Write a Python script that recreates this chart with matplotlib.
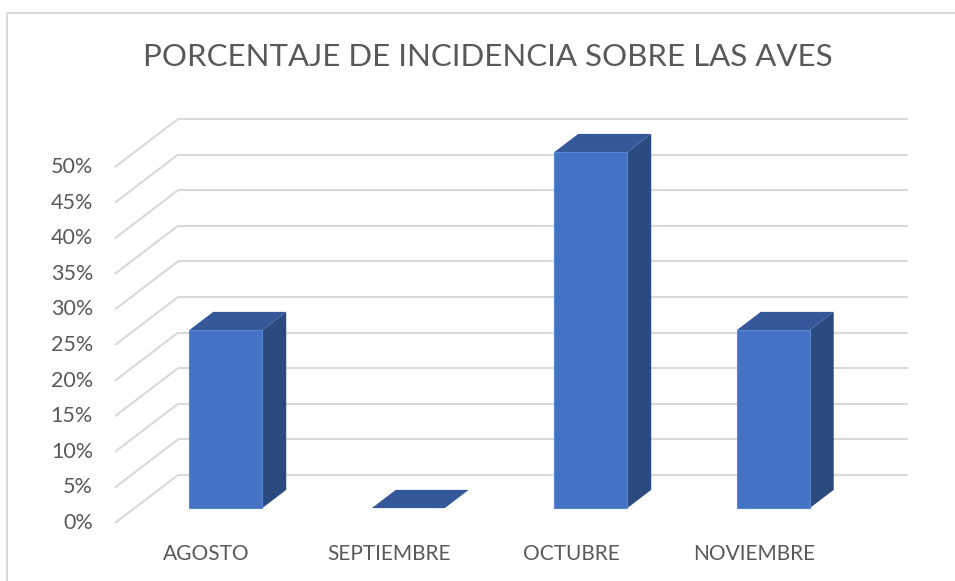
import matplotlib
matplotlib.use("Agg")
import matplotlib.pyplot as plt

# Data
meses = ["AGOSTO", "SEPTIEMBRE", "OCTUBRE", "NOVIEMBRE"]
porcentaje = [25, 0, 50, 25]
ticks = [0, 5, 10, 15, 20, 25, 30, 35, 40, 45, 50]

plt.rcParams["font.family"] = ["Lato", "DejaVu Sans"]

W, H = 955, 581
fig = plt.figure(figsize=(W / 100, H / 100), dpi=100)
ax = fig.add_axes([0, 0, 1, 1])

# pixel scale of the chart: one category = 182.5 px, 1% = 7.12 px
cat_px, pct_px = 182.5, 7.12
left_px, base_px = 115, 523
ax.set_xlim(-0.5 - left_px / cat_px, -0.5 + (W - left_px) / cat_px)
ax.set_ylim(-(H - base_px) / pct_px, base_px / pct_px)
ax.axis("off")

# depth vector (front of floor -> back wall)
dx, dy = 63 / cat_px, 48 / pct_px
grid_col = "#D9D9D9"
text_col = "#595959"
n = len(meses)

# back wall + left wall gridlines
for v in ticks:
    ax.plot([-0.5, -0.5 + dx], [v, v + dy], color=grid_col, lw=1.5, zorder=1,
            solid_capstyle="butt")
    ax.plot([-0.5 + dx, n - 0.5 + dx], [v + dy, v + dy], color=grid_col, lw=1.5,
            zorder=1, solid_capstyle="butt")
    ax.text(-0.5 - 22 / cat_px, v, f"{v}%", ha="right", va="center",
            fontsize=15.5, color=text_col)

# 3D bars
front_col, top_col, side_col = "#4472C4", "#34589A", "#2B4A7F"
f0, f1 = 0.31, 0.69
bw = 0.4
for i, val in enumerate(porcentaje):
    x0 = i - bw / 2 + f0 * dx
    x1 = x0 + bw
    y0 = f0 * dy
    y1 = y0 + val
    ox, oy = (f1 - f0) * dx, (f1 - f0) * dy
    # side face
    ax.fill([x1, x1 + ox, x1 + ox, x1], [y0, y0 + oy, y1 + oy, y1],
            color=side_col, zorder=3, lw=0)
    # top face
    ax.fill([x0, x1, x1 + ox, x0 + ox], [y1, y1, y1 + oy, y1 + oy],
            color=top_col, zorder=3, lw=0)
    # front face
    if val > 0:
        ax.fill([x0, x1, x1, x0], [y0, y0, y1, y1], facecolor=front_col,
                edgecolor="#5B86D0", lw=0.8, zorder=4)
    ax.text(i, -31 / pct_px, meses[i], ha="center", va="center",
            fontsize=15, color=text_col)

# title
fig.text(488 / W, 1 - 57 / H, "PORCENTAJE DE INCIDENCIA SOBRE LAS AVES",
         ha="center", va="center", fontsize=22.5, color=text_col)

# chart border
ax.plot([-0.5 - (left_px - 7) / cat_px] * 2,
        [-(H - base_px) / pct_px, (base_px - 13) / pct_px],
        color=grid_col, lw=1.5, zorder=0)
ax.plot([-0.5 - (left_px - 7) / cat_px, -0.5 + (W - left_px) / cat_px],
        [(base_px - 13) / pct_px] * 2, color=grid_col, lw=1.5, zorder=0)

fig.savefig("out.png", dpi=100)
